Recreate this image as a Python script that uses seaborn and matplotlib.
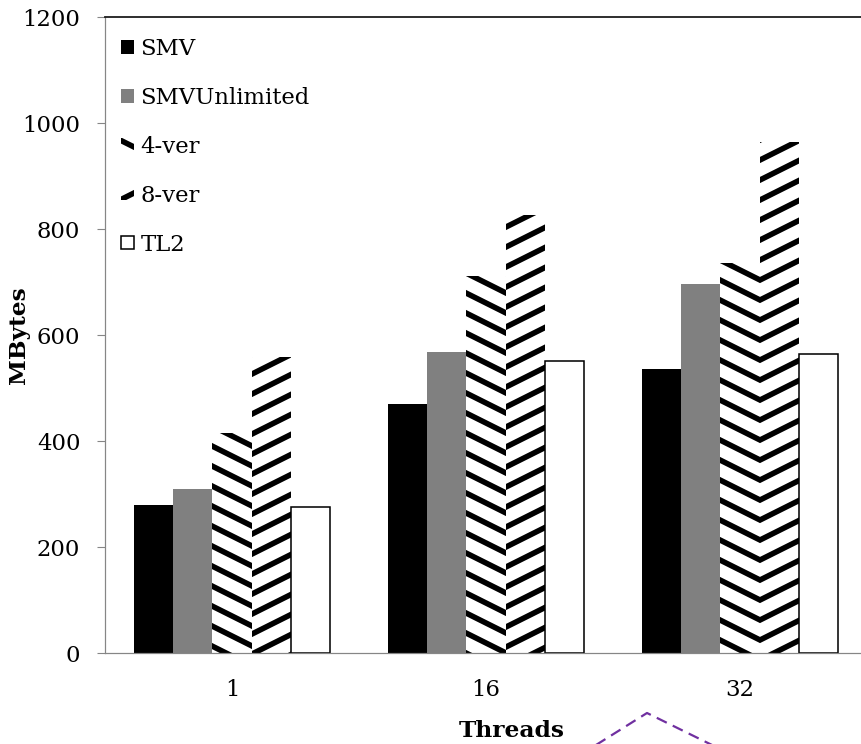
import numpy as np
import pandas as pd
import matplotlib
matplotlib.use("Agg")
import matplotlib.pyplot as plt
import matplotlib.hatch as mhatch
from matplotlib.path import Path
from matplotlib.patches import Patch
from matplotlib.lines import Line2D
import seaborn as sns

# ---------------- data ----------------
threads = ["1", "16", "32"]
series = ["SMV", "SMVUnlimited", "4-ver", "8-ver", "TL2"]
smv = [280, 470, 535]
smv_unlimited = [309, 567, 696]
ver4 = [416, 711, 736]
ver8 = [559, 826, 965]
tl2 = [275, 551, 565]
yticks = [0, 200, 400, 600, 800, 1000, 1200]

values = {"SMV": smv, "SMVUnlimited": smv_unlimited, "4-ver": ver4,
          "8-ver": ver8, "TL2": tl2}
df = pd.DataFrame([(t, s, values[s][i]) for s in series for i, t in enumerate(threads)],
                  columns=["Threads", "Series", "MBytes"])

# ------------- shallow (slope 1/2) stripe hatches, like the Excel patterns -------------
class _Shallow(mhatch.HatchPatternBase):
    char = "/"
    slope = 0.5

    def __init__(self, hatch, density):
        self.n = 4 * hatch.count(self.char)
        if self.n:
            self.ks = np.arange(-2 * self.n, 2 * self.n + 1)
            self.num_vertices = 2 * len(self.ks)
        else:
            self.ks = np.array([])
            self.num_vertices = 0

    def set_vertices_and_codes(self, vertices, codes):
        c = self.ks / self.n
        vertices[0::2, 0] = 0.0
        vertices[0::2, 1] = c
        vertices[1::2, 0] = 1.0
        vertices[1::2, 1] = c + self.slope
        codes[0::2] = Path.MOVETO
        codes[1::2] = Path.LINETO


class _ShallowNE(_Shallow):
    char = "/"
    slope = 0.5


class _ShallowSE(_Shallow):
    char = "\\"
    slope = -0.5


mhatch._hatch_types = [t for t in mhatch._hatch_types
                       if t not in (mhatch.NorthEastHatch, mhatch.SouthEastHatch)] + [_ShallowNE, _ShallowSE]

# ---------------- style ----------------
HATCH_LW = 5.0
sns.set_style("white")
plt.rcParams["font.family"] = ["DejaVu Serif"]
plt.rcParams["text.color"] = "black"
plt.rcParams["axes.labelcolor"] = "black"
plt.rcParams["xtick.labelcolor"] = "black"
plt.rcParams["ytick.labelcolor"] = "black"
plt.rcParams["hatch.linewidth"] = HATCH_LW
plt.rcParams["hatch.color"] = "black"

DPI = 80
fig = plt.figure(figsize=(861 / DPI, 744 / DPI), dpi=DPI)
ax = fig.add_axes([105 / 861, 91 / 744, 756 / 861, 636 / 744])

sns.barplot(data=df, x="Threads", y="MBytes", hue="Series", hue_order=series,
            order=threads, width=0.772, gap=0, saturation=1, legend=False,
            palette=["black", "#808080", "white", "white", "white"], ax=ax,
            errorbar=None)

styles = {
    "SMV": dict(facecolor="black", edgecolor="black", linewidth=0, hatch=None),
    "SMVUnlimited": dict(facecolor="#808080", edgecolor="#808080", linewidth=0, hatch=None),
    "4-ver": dict(facecolor="white", edgecolor="black", linewidth=0, hatch="\\"),
    "8-ver": dict(facecolor="white", edgecolor="black", linewidth=0, hatch="/"),
    "TL2": dict(facecolor="white", edgecolor="black", linewidth=1.4, hatch=None),
}
for name, cont in zip(series, ax.containers):
    st = styles[name]
    for p in cont.patches:
        p.set_facecolor(st["facecolor"])
        p.set_edgecolor(st["edgecolor"])
        p.set_linewidth(st["linewidth"])
        p.set_hatch(st["hatch"])
        if hasattr(p, "set_hatch_linewidth"):
            p.set_hatch_linewidth(HATCH_LW)

ax.set_ylim(0, 1200)
ax.set_yticks(yticks)
ax.set_xlim(-0.5, 2.476)

FS = 20.5
ax.tick_params(axis="y", direction="out", length=7.2, width=1, color="#868686",
               pad=15, labelsize=FS, left=True, labelcolor="black")
ax.tick_params(axis="x", length=0, pad=23, labelsize=FS, labelcolor="black")

for side in ["left", "bottom"]:
    ax.spines[side].set_color("#868686")
    ax.spines[side].set_linewidth(1.1)
ax.spines["top"].set_color("#1a1a1a")
ax.spines["top"].set_linewidth(1.6)
ax.spines["right"].set_visible(False)

ax.set_ylabel("MBytes", fontsize=21, fontweight="bold", color="black")
ax.yaxis.label.set_va("center")
ax.yaxis.set_label_coords((19 - 105) / 756, 0.5)
ax.set_xlabel("Threads", fontsize=21, fontweight="bold", color="black")
ax.xaxis.label.set_va("center")
ax.xaxis.set_label_coords((512 - 105) / 756, (653 - 731) / 636)

handles = [Patch(facecolor=styles[s]["facecolor"], edgecolor=styles[s]["edgecolor"],
                 linewidth=styles[s]["linewidth"], hatch=styles[s]["hatch"]) for s in series]
leg = ax.legend(handles, series, loc="upper left", bbox_to_anchor=(121 / 861, 1 - 38 / 744),
                bbox_transform=fig.transFigure, frameon=False, handlelength=0.55,
                handleheight=0.55, handletextpad=0.3, labelspacing=1.18, borderpad=0,
                borderaxespad=0, fontsize=FS, labelcolor="black")

# stray dashed purple shape at the bottom edge of the original picture
fig.add_artist(Line2D([596 / 861, 647 / 861, 712 / 861],
                      [1 - 745 / 744, 1 - 713 / 744, 1 - 745 / 744],
                      transform=fig.transFigure, color="#7030A0", linewidth=2,
                      linestyle=(0, (5, 3))))

fig.savefig("out.png", dpi=DPI)
